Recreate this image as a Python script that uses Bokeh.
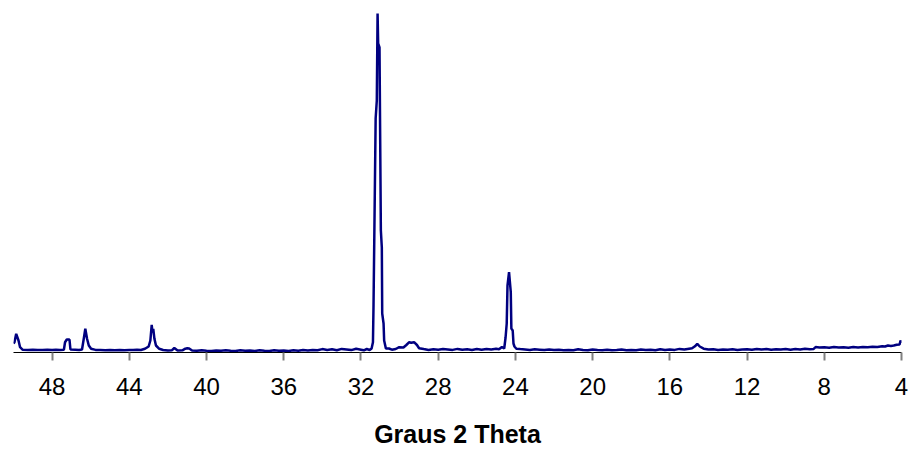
from bokeh.plotting import figure
from bokeh.embed import file_html
from bokeh.resources import INLINE
from bokeh.models import Range1d, FixedTicker

# diffractogram (2 theta in degrees, counts)
two_theta = [
    4.00, 4.05, 4.10, 4.25, 4.40, 4.55, 4.70, 4.85, 5.00, 5.25, 5.50, 5.75,
    6.00, 6.25, 6.50, 6.75, 7.00, 7.25, 7.50, 7.75, 8.00, 8.25, 8.45, 8.55,
    8.75, 9.00, 9.25, 9.50, 9.75, 10.00, 10.25, 10.50, 10.75, 11.00, 11.25, 11.50,
    11.75, 12.00, 12.25, 12.50, 12.75, 13.00, 13.25, 13.50, 13.75, 14.00, 14.25, 14.45,
    14.58, 14.70, 14.85, 15.00, 15.25, 15.50, 15.75, 16.00, 16.25, 16.50, 16.75, 17.00,
    17.25, 17.50, 17.75, 18.00, 18.25, 18.50, 18.75, 19.00, 19.25, 19.50, 19.75, 20.00,
    20.25, 20.50, 20.75, 21.00, 21.25, 21.50, 21.75, 22.00, 22.25, 22.50, 22.75, 23.00,
    23.25, 23.50, 23.75, 23.95, 24.05, 24.10, 24.14, 24.21, 24.24, 24.33, 24.41, 24.45,
    24.51, 24.58, 24.70, 24.85, 25.00, 25.25, 25.50, 25.75, 26.00, 26.25, 26.50, 26.75,
    27.00, 27.25, 27.50, 27.75, 28.00, 28.25, 28.50, 28.75, 28.99, 29.10, 29.25, 29.40,
    29.50, 29.65, 29.80, 30.02, 30.20, 30.40, 30.55, 30.71, 30.80, 30.83, 30.90, 30.92,
    30.97, 31.04, 31.11, 31.14, 31.18, 31.24, 31.35, 31.38, 31.45, 31.55, 31.70, 31.85,
    32.00, 32.25, 32.50, 32.75, 33.00, 33.25, 33.50, 33.75, 34.00, 34.25, 34.50, 34.75,
    35.00, 35.25, 35.50, 35.75, 36.00, 36.25, 36.50, 36.75, 37.00, 37.25, 37.50, 37.75,
    38.00, 38.25, 38.50, 38.75, 39.00, 39.25, 39.50, 39.75, 40.00, 40.25, 40.50, 40.75,
    40.90, 41.00, 41.10, 41.25, 41.50, 41.67, 41.80, 42.00, 42.25, 42.45, 42.62, 42.70,
    42.76, 42.80, 42.84, 42.91, 43.00, 43.19, 43.40, 43.60, 43.80, 44.00, 44.25, 44.50,
    44.75, 45.00, 45.25, 45.50, 45.75, 45.98, 46.10, 46.19, 46.28, 46.36, 46.45, 46.60,
    46.80, 47.05, 47.10, 47.24, 47.33, 47.39, 47.60, 47.80, 48.00, 48.25, 48.50, 48.75,
    49.00, 49.25, 49.52, 49.66, 49.74, 49.86, 49.95, 50.00,
]
counts = [
    95, 120, 80, 78, 70, 66, 70, 60, 62, 55, 58, 52,
    55, 50, 54, 48, 52, 50, 55, 47, 52, 50, 54, 36,
    32, 38, 30, 34, 28, 35, 30, 33, 27, 34, 30, 36,
    28, 33, 30, 26, 32, 28, 30, 26, 32, 30, 38, 60,
    87, 62, 42, 38, 30, 36, 26, 30, 24, 32, 22, 28,
    24, 30, 22, 26, 22, 30, 24, 22, 28, 22, 24, 30,
    22, 24, 32, 22, 26, 22, 28, 24, 30, 24, 28, 32,
    26, 30, 34, 38, 60, 90, 220, 240, 603, 803, 670, 290,
    150, 40, 55, 32, 38, 30, 36, 28, 34, 26, 32, 28,
    36, 26, 30, 34, 28, 32, 26, 34, 43, 75, 103, 98,
    103, 75, 50, 53, 35, 28, 40, 40, 120, 290, 390, 1050,
    1220, 3050, 3090, 3390, 2520, 2340, 470, 103, 40, 25, 35, 22,
    28, 38, 24, 30, 36, 22, 32, 26, 34, 22, 26, 20,
    24, 18, 22, 16, 20, 18, 22, 16, 18, 22, 16, 20,
    18, 22, 16, 18, 22, 18, 20, 16, 18, 22, 18, 20,
    40, 42, 38, 22, 20, 45, 22, 20, 25, 37, 70, 137,
    237, 200, 277, 120, 60, 37, 25, 28, 24, 26, 22, 26,
    22, 26, 22, 24, 26, 37, 70, 137, 237, 137, 30, 25,
    28, 30, 130, 130, 103, 27, 26, 28, 24, 28, 26, 24,
    28, 26, 27, 53, 120, 187, 103, 90,
]
tick_values = [48, 44, 40, 36, 32, 28, 24, 20, 16, 12, 8, 4]

p = figure(width=913, height=450, output_backend="svg", toolbar_location=None,
           x_range=Range1d(50, 4), y_range=Range1d(0, 3400),
           min_border_top=12, min_border_left=13, min_border_right=12, min_border_bottom=98)
p.background_fill_color = "white"
p.border_fill_color = "white"
p.outline_line_color = None
p.xgrid.grid_line_color = None
p.ygrid.grid_line_color = None
p.yaxis.visible = False

p.line(two_theta, counts, line_color="#000080", line_width=2.5)

p.xaxis.ticker = FixedTicker(ticks=tick_values)
p.xaxis.axis_line_color = "black"
p.xaxis.axis_line_width = 1
p.xaxis.major_tick_line_color = "#808080"
p.xaxis.major_tick_line_width = 2
p.xaxis.major_tick_in = 0
p.xaxis.major_tick_out = 8
p.xaxis.minor_tick_line_color = None
p.xaxis.major_label_text_font = "Liberation Sans"
p.xaxis.major_label_text_font_size = "24px"
p.xaxis.major_label_text_color = "black"
p.xaxis.major_label_standoff = 17
p.xaxis.axis_label = "Graus 2 Theta"
p.xaxis.axis_label_text_font = "Liberation Sans"
p.xaxis.axis_label_text_font_size = "25px"
p.xaxis.axis_label_text_font_style = "bold"
p.xaxis.axis_label_text_color = "black"
p.xaxis.axis_label_standoff = 22

open("out.html", "w").write(file_html(p, INLINE))
